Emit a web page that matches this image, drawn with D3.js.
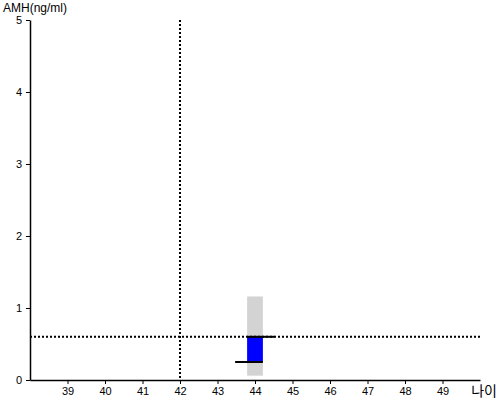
<!DOCTYPE html>
<html><head><meta charset="utf-8">
<script src="https://cdn.jsdelivr.net/npm/d3@7"></script>
<style>body{margin:0;background:#fff}svg{display:block;font-family:"Liberation Sans",Arial,sans-serif}</style>
</head><body><svg id="c" width="500" height="400"></svg>
<script>
const xTicks = [39,40,41,42,43,44,45,46,47,48,49];
const yTicks = [0,1,2,3,4,5];
const ageRef = 42;
const amhRef = 0.6;
const ages = [44];
const rangeLow = [0.06];
const rangeHigh = [1.16];
const amhValue = [0.25];
const amhMedian = [0.6];

const svg = d3.select("#c");
const x = d3.scaleLinear().domain([38,50]).range([30,480]);
const y = d3.scaleLinear().domain([0,5]).range([380,20]);
const bw = x(44.21)-x(43.79);

// gray range
svg.selectAll("rect.rng").data(ages).enter().append("rect")
  .attr("x", d=>x(d)-bw/2).attr("width", bw)
  .attr("y", (d,i)=>y(rangeHigh[i])).attr("height",(d,i)=>y(rangeLow[i])-y(rangeHigh[i]))
  .attr("fill","#d3d3d3");
// blue
svg.selectAll("rect.val").data(ages).enter().append("rect")
  .attr("x", d=>x(d)-bw/2).attr("width", bw)
  .attr("y", (d,i)=>y(amhMedian[i])).attr("height",(d,i)=>y(amhValue[i])-y(amhMedian[i]))
  .attr("fill","#0000ff");

// dotted reference lines
svg.append("line").attr("x1",x(38)).attr("x2",x(50)).attr("y1",y(amhRef)).attr("y2",y(amhRef))
  .attr("stroke","#000").attr("stroke-width",2).attr("stroke-dasharray","2,2");
svg.append("line").attr("x1",x(ageRef)).attr("x2",x(ageRef)).attr("y1",y(5)).attr("y2",y(0))
  .attr("stroke","#000").attr("stroke-width",2).attr("stroke-dasharray","2,2");

// black markers
ages.forEach((a,i)=>{
  svg.append("line").attr("x1",x(a)-bw/2).attr("x2",x(a+0.53)).attr("y1",y(amhMedian[i])).attr("y2",y(amhMedian[i]))
    .attr("stroke","#000").attr("stroke-width",2);
  svg.append("line").attr("x1",x(a-0.53)).attr("x2",x(a)+bw/2).attr("y1",y(amhValue[i])).attr("y2",y(amhValue[i]))
    .attr("stroke","#000").attr("stroke-width",2);
});

// axes
const xa = svg.append("g").attr("transform","translate(0,380)")
  .call(d3.axisBottom(x).tickValues(xTicks).tickSize(4).tickSizeOuter(0).tickFormat(d3.format("d")));
const ya = svg.append("g").attr("transform","translate(30,0)")
  .call(d3.axisLeft(y).tickValues(yTicks).tickSize(4).tickSizeOuter(0).tickFormat(d3.format("d")));
[xa,ya].forEach(g=>{
  g.select(".domain").attr("stroke","#000").attr("stroke-width",1.5);
  g.selectAll(".tick line").attr("stroke","#000");
  g.selectAll(".tick text").attr("fill","#000").style("font-size","11px").style("font-family","Liberation Sans, Arial, sans-serif");
});
ya.selectAll(".tick text").attr("x",-8);

svg.append("text").attr("x",3).attr("y",12).text("AMH(ng/ml)")
  .style("font-size","12px").attr("fill","#000");
svg.append("text").attr("x",497).attr("y",396).attr("text-anchor","end").text("나이")
  .style("font-size","14px").style("font-family","Noto Sans CJK KR").attr("fill","#000");
</script></body></html>
